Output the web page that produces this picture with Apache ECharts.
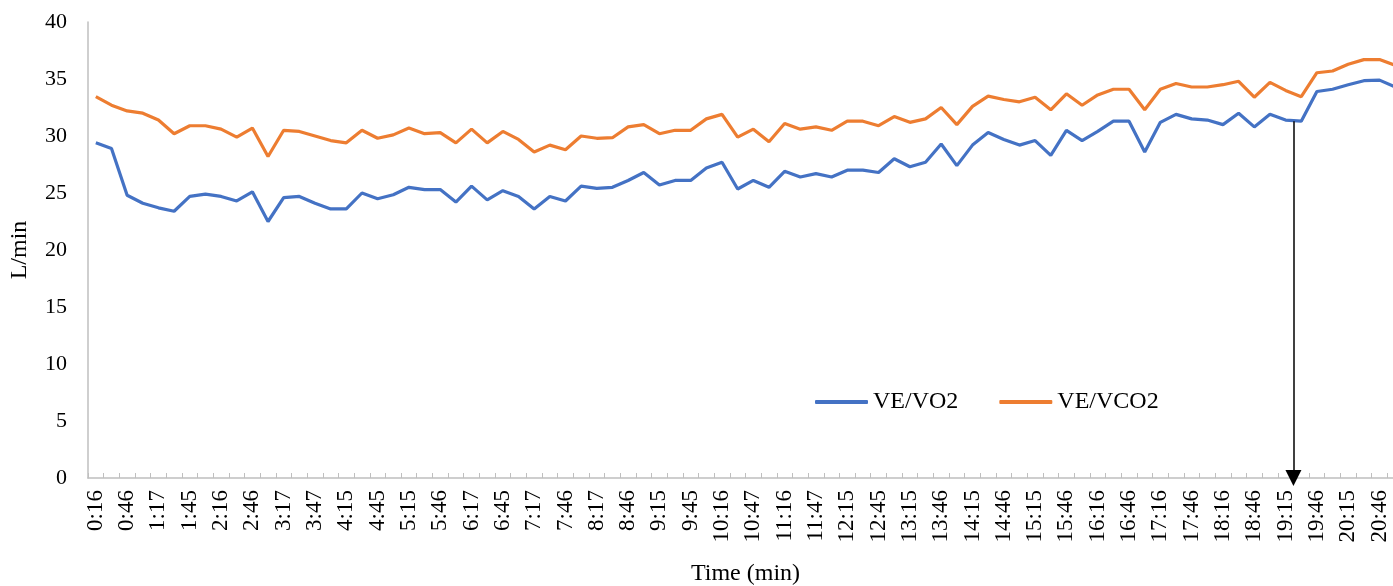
<!DOCTYPE html>
<html>
<head>
<meta charset="utf-8">
<script src="https://cdn.jsdelivr.net/npm/echarts@6/dist/echarts.min.js"></script>
<style>
html,body{margin:0;padding:0;background:#fff;}
#c{width:1393px;height:586px;}
</style>
</head>
<body>
<div id="c"></div>
<script>
var categories = ["0:16","0:31","0:46","1:02","1:17","1:31","1:45","2:01","2:16","2:31","2:46","3:02","3:17","3:32","3:47","4:01","4:15","4:30","4:45","5:00","5:15","5:31","5:46","6:02","6:17","6:31","6:45","7:01","7:17","7:31","7:46","8:02","8:17","8:31","8:46","9:00","9:15","9:30","9:45","10:01","10:16","10:32","10:47","11:01","11:16","11:32","11:47","12:01","12:15","12:30","12:45","13:00","13:15","13:31","13:46","14:00","14:15","14:31","14:46","15:00","15:15","15:31","15:46","16:01","16:16","16:31","16:46","17:01","17:16","17:31","17:46","18:01","18:16","18:31","18:46","19:00","19:15","19:31","19:46","20:00","20:15","20:31","20:46","21:01"];

var veVO2 = [29.4,28.9,24.8,24.1,23.7,23.4,24.7,24.9,24.7,24.3,25.1,22.5,24.6,24.7,24.1,23.6,23.6,25.0,24.5,24.85,25.5,25.3,25.3,24.2,25.6,24.4,25.2,24.7,23.6,24.7,24.3,25.6,25.4,25.5,26.1,26.8,25.7,26.1,26.1,27.2,27.7,25.35,26.1,25.5,26.9,26.4,26.7,26.4,27.0,27.0,26.8,28.0,27.3,27.7,29.3,27.4,29.2,30.3,29.7,29.2,29.6,28.3,30.5,29.6,30.4,31.3,31.3,28.6,31.2,31.9,31.5,31.4,31.0,32.0,30.8,31.9,31.4,31.3,33.9,34.1,34.5,34.85,34.9,34.3];

var veVCO2 = [33.45,32.7,32.2,32.0,31.4,30.2,30.9,30.9,30.6,29.9,30.7,28.2,30.5,30.4,30.0,29.6,29.4,30.5,29.8,30.1,30.7,30.2,30.3,29.4,30.6,29.4,30.4,29.7,28.6,29.2,28.8,30.0,29.8,29.85,30.8,31.0,30.2,30.5,30.5,31.5,31.9,29.9,30.6,29.5,31.1,30.6,30.8,30.5,31.3,31.3,30.9,31.7,31.2,31.5,32.5,31.0,32.6,33.5,33.2,33.0,33.4,32.3,33.7,32.7,33.6,34.1,34.1,32.3,34.1,34.6,34.3,34.3,34.5,34.8,33.4,34.7,34.0,33.45,35.55,35.7,36.3,36.7,36.7,36.2];

var yTicks = [0,5,10,15,20,25,30,35,40];

// arrow annotation (category position, value at top)
var arrowX = 76.5;
var arrowTop = 31.3;

var FONT = '"Liberation Serif","Times New Roman",serif';
var chart = echarts.init(document.getElementById('c'), null, {renderer:'canvas'});
chart.setOption({
  animation:false,
  backgroundColor:'#fff',
  grid:{left:88, right:-10, top:22, bottom:108, containLabel:false, outerBoundsMode:'none'},
  legend:{
    data:['VE/VO2','VE/VCO2'],
    left:810, top:385,
    icon:'roundRect',
    itemWidth:53, itemHeight:4, itemGap:41,
    textStyle:{fontFamily:FONT, fontSize:24, color:'#000'}
  },
  xAxis:[{
    type:'category',
    data:categories,
    boundaryGap:true,
    name:'Time (min)',
    nameLocation:'middle',
    nameGap:84,
    nameTextStyle:{fontFamily:FONT, fontSize:24, color:'#000'},
    axisLine:{onZero:false, lineStyle:{color:'#BFBFBF', width:1.5}},
    axisTick:{show:true, inside:true, length:5, interval:0, lineStyle:{color:'#BFBFBF'}},
    axisLabel:{interval:1, rotate:90, margin:12, fontFamily:FONT, fontSize:23, color:'#000'},
    splitLine:{show:false}
  },{
    type:'value', show:false, min:-0.5, max:categories.length-0.5
  }],
  yAxis:{
    type:'value', min:yTicks[0], max:yTicks[yTicks.length-1], interval:5,
    name:'L/min', nameLocation:'middle', nameGap:56,
    nameTextStyle:{fontFamily:FONT, fontSize:24, color:'#000'},
    axisLine:{show:true, onZero:false, lineStyle:{color:'#BFBFBF', width:1.5}},
    axisTick:{show:false},
    axisLabel:{margin:21, fontFamily:FONT, fontSize:22, color:'#000'},
    splitLine:{show:false}
  },
  series:[{
    name:'VE/VO2', type:'line', data:veVO2, symbol:'none', smooth:false,
    lineStyle:{color:'#4472C4', width:3.2}, itemStyle:{color:'#4472C4'}
  },{
    name:'VE/VCO2', type:'line', data:veVCO2, symbol:'none', smooth:false,
    lineStyle:{color:'#ED7D31', width:3.2}, itemStyle:{color:'#ED7D31'}
  },{
    name:'arrow', type:'line', xAxisIndex:1, yAxisIndex:0,
    data:[[arrowX, arrowTop],[arrowX, 0]], symbol:'none', silent:true,
    lineStyle:{width:0, opacity:0},
    markLine:{
      silent:true, animation:false,
      symbol:['none','triangle'], symbolSize:[16,16],
      label:{show:false},
      lineStyle:{color:'#000', width:1.5, type:'solid'},
      data:[[{coord:[arrowX, arrowTop]},{coord:[arrowX, 0]}]]
    }
  }]
});
</script>
</body>
</html>
